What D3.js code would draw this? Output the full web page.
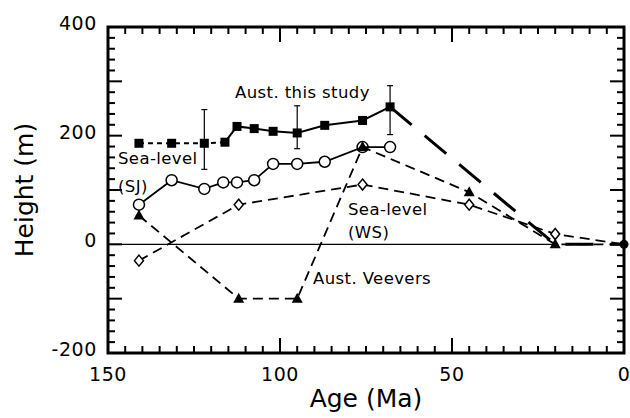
<!DOCTYPE html>
<html>
<head>
<meta charset="utf-8">
<script src="https://cdn.jsdelivr.net/npm/d3@7/dist/d3.min.js"></script>
<style>
  html, body { margin: 0; padding: 0; background: #fff; }
  svg { display: block; }
  text { font-family: "DejaVu Sans", Verdana, sans-serif; fill: #000; }
</style>
</head>
<body>
<svg id="chart" width="630" height="418"></svg>
<script>
// ---- Data ----
// Aust. this study (filled squares)
const thisAge    = [141, 131.5, 122, 116, 112.5, 107.5, 102, 95, 87, 76, 68];
const thisHeight = [186, 186, 186, 188, 217, 213, 208, 205, 219, 228, 253];
// error bars for Aust. this study
const errAge = [122, 95, 68];
const errLow = [138, 176, 202];
const errHigh = [248, 255, 292];
// projected continuation of Aust. this study
const projAge    = [68, 20, 0];
const projHeight = [253, 0, 0];
// Sea-level (SJ) (open circles)
const sjAge    = [141, 131.5, 122, 116.5, 112.5, 107.5, 102, 95, 87, 76, 68];
const sjHeight = [73, 118, 102, 114, 114, 118, 148, 148, 152, 179, 179];
// Sea-level (WS) (open diamonds)
const wsAge    = [141, 112, 76, 45, 20, 0];
const wsHeight = [-30, 73, 110, 73, 19, 0];
// Aust. Veevers (filled triangles)
const vvAge    = [141, 112, 95, 76, 45, 20, 0];
const vvHeight = [53, -100, -100, 179, 96, 0, 0];
// axis ticks
const xTickLabels = [150, 100, 50, 0];
const yTickLabels = [400, 200, 0, -200];

// ---- Layout ----
const svg = d3.select("#chart");
const L = 108, R = 624, T = 27, B = 353;
const x = d3.scaleLinear().domain([150, 0]).range([L, R]);
const y = d3.scaleLinear().domain([-200, 400]).range([B, T]);

const zip = (a, b) => a.map((v, i) => [v, b[i]]);
const line = d3.line().x(d => x(d[0])).y(d => y(d[1]));

// zero line (150 -> 20 Ma)
svg.append("line")
  .attr("x1", x(150)).attr("x2", x(20))
  .attr("y1", y(0)).attr("y2", y(0))
  .attr("stroke", "#000").attr("stroke-width", 1.3);

// ---- Ticks (inward on all four sides) ----
const g = svg.append("g");
const xMinor = d3.range(150, -1, -5);
xMinor.forEach(v => {
  const len = (v % 50 === 0) ? 15 : 7;
  g.append("line").attr("x1", x(v)).attr("x2", x(v)).attr("y1", B).attr("y2", B - len)
    .attr("stroke", "#000").attr("stroke-width", 2);
  g.append("line").attr("x1", x(v)).attr("x2", x(v)).attr("y1", T).attr("y2", T + len)
    .attr("stroke", "#000").attr("stroke-width", 2);
});
const yMinor = d3.range(-200, 401, 20);
yMinor.forEach(v => {
  const len = (v % 100 === 0) ? 14 : 7;
  g.append("line").attr("y1", y(v)).attr("y2", y(v)).attr("x1", L).attr("x2", L + len)
    .attr("stroke", "#000").attr("stroke-width", 2);
  g.append("line").attr("y1", y(v)).attr("y2", y(v)).attr("x1", R).attr("x2", R - len)
    .attr("stroke", "#000").attr("stroke-width", 2);
});

// frame
svg.append("rect").attr("x", L).attr("y", T).attr("width", R - L).attr("height", B - T)
  .attr("fill", "none").attr("stroke", "#000").attr("stroke-width", 3);

// tick labels
svg.selectAll(".xtl").data(xTickLabels).enter().append("text")
  .attr("x", d => x(d)).attr("y", 381)
  .attr("text-anchor", "middle").attr("font-size", 19).attr("letter-spacing", 0.6)
  .text(d => d);
svg.selectAll(".ytl").data(yTickLabels).enter().append("text")
  .attr("x", 97).attr("y", d => y(d) + 3)
  .attr("text-anchor", "end").attr("font-size", 19).attr("letter-spacing", 0.6)
  .text(d => d);

// axis titles
svg.append("text").attr("x", 366).attr("y", 407).attr("text-anchor", "middle")
  .attr("font-size", 25).text("Age (Ma)");
svg.append("text").attr("transform", "translate(33,190) rotate(-90)")
  .attr("text-anchor", "middle").attr("font-size", 25).text("Height (m)");

// ---- Series lines ----
// projection (thick long dash)
svg.append("path").datum(zip(projAge, projHeight)).attr("d", line)
  .attr("fill", "none").attr("stroke", "#000").attr("stroke-width", 3)
  .attr("stroke-dasharray", "28,17");
// Veevers dashed
svg.append("path").datum(zip(vvAge, vvHeight)).attr("d", line)
  .attr("fill", "none").attr("stroke", "#000").attr("stroke-width", 1.8)
  .attr("stroke-dasharray", "10,6");
// WS dashed
svg.append("path").datum(zip(wsAge, wsHeight)).attr("d", line)
  .attr("fill", "none").attr("stroke", "#000").attr("stroke-width", 1.8)
  .attr("stroke-dasharray", "10,6");
// SJ solid
svg.append("path").datum(zip(sjAge, sjHeight)).attr("d", line)
  .attr("fill", "none").attr("stroke", "#000").attr("stroke-width", 1.8);
// this study: dotted for first four, solid afterwards
const thisPts = zip(thisAge, thisHeight);
svg.append("path").datum(thisPts.slice(0, 4)).attr("d", line)
  .attr("fill", "none").attr("stroke", "#000").attr("stroke-width", 2)
  .attr("stroke-dasharray", "5,4");
svg.append("path").datum(thisPts.slice(3)).attr("d", line)
  .attr("fill", "none").attr("stroke", "#000").attr("stroke-width", 2);

// error bars
errAge.forEach((a, i) => {
  const xx = x(a);
  svg.append("line").attr("x1", xx).attr("x2", xx).attr("y1", y(errLow[i])).attr("y2", y(errHigh[i]))
    .attr("stroke", "#000").attr("stroke-width", 1.2);
  [errLow[i], errHigh[i]].forEach(v => {
    svg.append("line").attr("x1", xx - 3).attr("x2", xx + 3).attr("y1", y(v)).attr("y2", y(v))
      .attr("stroke", "#000").attr("stroke-width", 1.2);
  });
});

// ---- Markers ----
// diamonds (WS), except the end point at 0 drawn filled
svg.selectAll(".dia").data(zip(wsAge, wsHeight).slice(0, 5)).enter().append("path")
  .attr("transform", d => `translate(${x(d[0])},${y(d[1])})`)
  .attr("d", "M0,-5.5L4.5,0L0,5.5L-4.5,0Z")
  .attr("fill", "#fff").attr("stroke", "#000").attr("stroke-width", 1.5);
// triangles (Veevers)
svg.selectAll(".tri").data(zip(vvAge, vvHeight).slice(0, 6)).enter().append("path")
  .attr("transform", d => `translate(${x(d[0])},${y(d[1])})`)
  .attr("d", "M0,-6L5.5,4L-5.5,4Z")
  .attr("fill", "#000");
// open circles (SJ)
svg.selectAll(".cir").data(zip(sjAge, sjHeight)).enter().append("circle")
  .attr("cx", d => x(d[0])).attr("cy", d => y(d[1])).attr("r", 5.5)
  .attr("fill", d => d[0] === 76 ? "none" : "#fff").attr("stroke", "#000").attr("stroke-width", 1.5);
// filled squares (this study)
svg.selectAll(".sq").data(thisPts).enter().append("rect")
  .attr("x", d => x(d[0]) - 4.5).attr("y", d => y(d[1]) - 4.5)
  .attr("width", 9).attr("height", 9).attr("fill", "#000");
// present-day end point
svg.append("circle").attr("cx", x(projAge[2])).attr("cy", y(projHeight[2])).attr("r", 4.5).attr("fill", "#000");

// ---- Annotations ----
const ann = [
  {t: "Aust. this study", x: 235, y: 98},
  {t: "Sea-level", x: 118, y: 164},
  {t: "(SJ)", x: 118, y: 192},
  {t: "Sea-level", x: 348, y: 215},
  {t: "(WS)", x: 348, y: 238},
  {t: "Aust. Veevers", x: 313, y: 284}
];
ann.forEach(a => {
  svg.append("text").attr("x", a.x).attr("y", a.y).attr("font-size", 16.5)
    .attr("letter-spacing", 0.4).text(a.t);
});
</script>
</body>
</html>
